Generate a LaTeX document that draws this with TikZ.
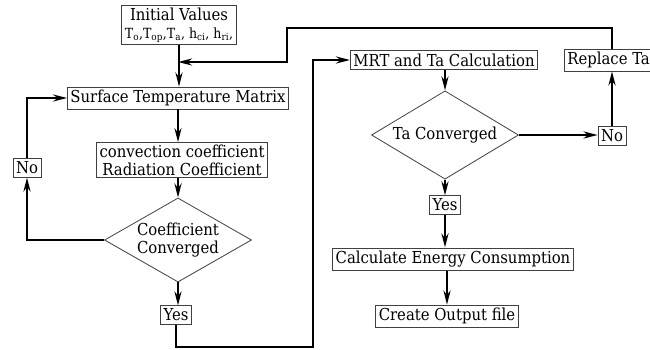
\documentclass[tikz,border=0pt]{standalone}
\usepackage{fontspec}
\setmainfont{DejaVu Serif Condensed}
\usetikzlibrary{arrows.meta,shapes.geometric}

\begin{document}
\begin{tikzpicture}[x=1pt, y=-1pt,
    every node/.style={font=\fontsize{16.5}{18}\selectfont},
    box/.style={draw=black!75, line width=0.8pt, inner xsep=3pt, inner ysep=3pt, align=center},
    decision/.style={draw=black!75, line width=0.8pt, diamond, inner sep=-8pt,
        minimum width=147pt, minimum height=62pt, align=center},
    flow/.style={line width=2.4pt, -{Stealth[length=14pt,width=7pt]}},
    link/.style={line width=2.4pt}]
    \useasboundingbox (0,0) rectangle (650,349);

    % inner loop
    \node[box, inner ysep=2pt] (init) at (179,25) {Initial Values\\
        {\fontsize{14}{16}\selectfont T\textsubscript{o},T\textsubscript{op},T\textsubscript{a}, h\textsubscript{ci}, h\textsubscript{ri},}};
    \node[box] (matrix) at (178,98) {Surface Temperature Matrix};
    \node[box, inner ysep=2pt] (coef) at (182,160) {convection coefficient\\Radiation Coefficient};
    \node[decision] (coefconv) at (178,240) {Coefficient\\Converged};
    \node[box] (no1) at (27,168) {No};
    \node[box] (yes1) at (176,315) {Yes};

    % outer loop
    \node[box] (mrt) at (444,60) {MRT and Ta Calculation};
    \node[decision] (taconv) at (445,135) {Ta Converged};
    \node[box] (no2) at (612,136) {No};
    \node[box, anchor=west] (replace) at (564,60) {Replace Ta};
    \node[box] (yes2) at (445,205) {Yes};
    \node[box] (energy) at (453,259) {Calculate Energy Consumption};
    \node[box] (output) at (447,316) {Create Output file};

    % helper points
    \coordinate (join) at (178,62);
    \coordinate (topturn) at (287,28);
    \coordinate (botturn) at (313,347);

    % inner loop links
    \draw[flow] (init.south) -- (init.south |- matrix.north);
    \draw[flow] (matrix.south) -- (matrix.south |- coef.north);
    \draw[flow] (coef.south -| coefconv.north) -- (coefconv.north);
    \draw[flow] (coefconv.west) -| (no1.south);
    \draw[flow] (no1.north) |- (matrix.west);
    \draw[flow] (coefconv.south) -- (coefconv.south |- yes1.north);
    \draw[flow] (yes1.south) |- (botturn) |- (mrt.west);

    % outer loop links
    \draw[flow] (mrt.south -| taconv.north) -- (taconv.north);
    \draw[flow] (taconv.east) -- (taconv.east -| no2.west);
    \draw[flow] (no2.north) -- (no2.north |- replace.south);
    \draw[flow] (no2.north |- replace.north) |- (topturn) |- (join);
    \draw[flow] (taconv.south) -- (yes2.north);
    \draw[flow] (yes2.south) -- (yes2.south |- energy.north);
    \draw[flow] (energy.south -| output.north) -- (output.north);
\end{tikzpicture}
\end{document}
